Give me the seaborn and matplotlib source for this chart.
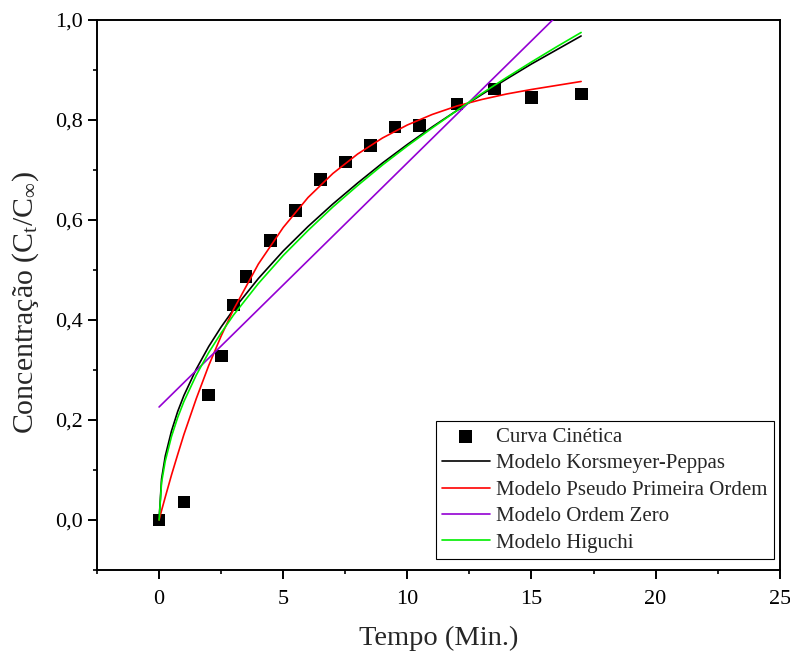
import matplotlib
matplotlib.use('Agg')
import matplotlib.pyplot as plt
import seaborn as sns
from matplotlib.ticker import MultipleLocator, FuncFormatter

# Experimental points (Curva Cinética)
tempo = [0, 1, 2, 2.5, 3, 3.5, 4.5, 5.5, 6.5, 7.5, 8.5, 9.5, 10.5, 12, 13.5, 15, 17]
conc = [0.0, 0.036, 0.25, 0.328, 0.43, 0.487, 0.559, 0.619, 0.681, 0.716, 0.749,
        0.786, 0.789, 0.832, 0.862, 0.845, 0.852]

# Model curves
t_model = [0, 0.1, 0.25, 0.5, 0.75, 1, 1.5, 2, 2.5, 3, 4, 5, 6, 7, 8, 9, 10,
           11, 12, 13, 14, 15, 16, 17]
korsmeyer = [0.0, 0.082, 0.128, 0.178, 0.217, 0.249, 0.302, 0.347, 0.386, 0.421,
             0.483, 0.538, 0.587, 0.632, 0.674, 0.714, 0.751, 0.786, 0.819,
             0.851, 0.882, 0.912, 0.940, 0.968]
pseudo_primeira = [0.0, 0.019, 0.046, 0.090, 0.131, 0.171, 0.243, 0.309, 0.368,
                   0.421, 0.512, 0.585, 0.645, 0.693, 0.732, 0.764, 0.790,
                   0.811, 0.828, 0.841, 0.852, 0.861, 0.869, 0.877]
higuchi = [0.0, 0.075, 0.118, 0.167, 0.205, 0.237, 0.290, 0.335, 0.374, 0.410,
           0.473, 0.529, 0.579, 0.626, 0.669, 0.710, 0.748, 0.784, 0.819,
           0.853, 0.885, 0.916, 0.946, 0.975]
t_zero = [0, 17]
ordem_zero = [0.226, 1.056]

sns.set_style('ticks')
plt.rcParams['font.family'] = ['Liberation Serif', 'DejaVu Serif']
plt.rcParams['mathtext.fontset'] = 'custom'
plt.rcParams['mathtext.rm'] = 'Liberation Serif'
plt.rcParams['mathtext.it'] = 'Liberation Serif:italic'

fig = plt.figure(figsize=(7.9, 6.57), dpi=100)
ax = fig.add_axes([0.1228, 0.1324, 0.8642, 0.8372])

sns.scatterplot(x=tempo, y=conc, marker='s', s=85, color='black', edgecolor='none',
                label='Curva Cinética', ax=ax, zorder=2)
sns.lineplot(x=t_model, y=korsmeyer, color='black', lw=1.2,
             label='Modelo Korsmeyer-Peppas', ax=ax, zorder=3)
sns.lineplot(x=t_model, y=pseudo_primeira, color='#ff0000', lw=1.2,
             label='Modelo Pseudo Primeira Ordem', ax=ax, zorder=3)
sns.lineplot(x=t_zero, y=ordem_zero, color='#9400d3', lw=1.2,
             label='Modelo Ordem Zero', ax=ax, zorder=3)
sns.lineplot(x=t_model, y=higuchi, color='#00ee00', lw=1.2,
             label='Modelo Higuchi', ax=ax, zorder=3)

ax.set_xlim(-2.5, 25)
ax.set_ylim(-0.1, 1.0)
ax.xaxis.set_major_locator(MultipleLocator(5))
ax.xaxis.set_minor_locator(MultipleLocator(2.5))
ax.yaxis.set_major_locator(MultipleLocator(0.2))
ax.yaxis.set_minor_locator(MultipleLocator(0.1))
ax.yaxis.set_major_formatter(FuncFormatter(lambda v, p: f"{v:.1f}".replace('.', ',')))
ax.xaxis.set_major_formatter(FuncFormatter(lambda v, p: f"{v:.0f}"))

ax.tick_params(which='major', direction='out', length=6.5, width=1.4, labelsize=16,
               colors='black')
ax.tick_params(which='minor', direction='out', length=3, width=1.4)
ax.tick_params(axis='x', pad=8)
for sp in ax.spines.values():
    sp.set_linewidth(1.4)
    sp.set_color('black')

ax.set_xlabel('Tempo (Min.)', fontsize=20.5, labelpad=12)
ax.set_ylabel('Concentração (C$_{\\mathrm{t}}$/C$_{\\mathrm{∞}}$)', fontsize=21.5, labelpad=8)
ax.yaxis.set_label_coords(-0.082, 0.487)

leg = ax.legend(loc='lower right', bbox_to_anchor=(0.991, 0.02), borderaxespad=0,
                fontsize=15, frameon=True, fancybox=False, framealpha=1,
                edgecolor='black', handlelength=2.3, handletextpad=0.3,
                labelspacing=0.33, borderpad=0.3, scatterpoints=1)
leg.get_frame().set_linewidth(0.8)

plt.savefig('out.png', dpi=100)
plt.close()
